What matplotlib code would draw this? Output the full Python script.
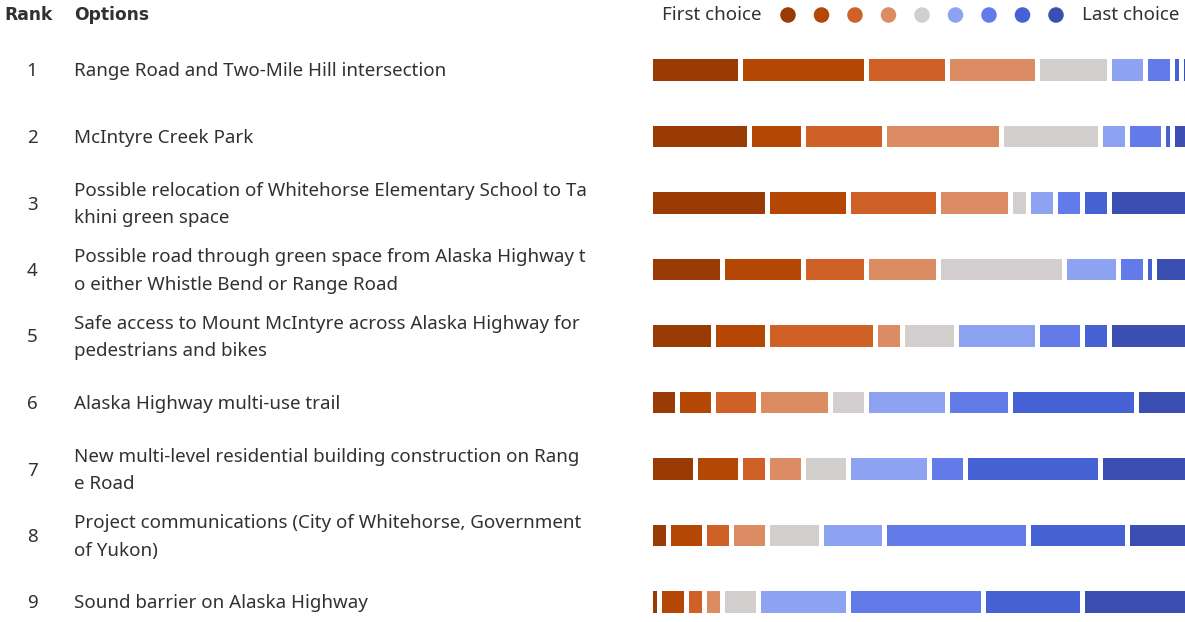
import matplotlib.pyplot as plt

# Ranking results (number of respondents per rank position, 60 in total)
options = [
    "Range Road and Two-Mile Hill intersection",
    "McIntyre Creek Park",
    "Possible relocation of Whitehorse Elementary School to Ta\nkhini green space",
    "Possible road through green space from Alaska Highway t\no either Whistle Bend or Range Road",
    "Safe access to Mount McIntyre across Alaska Highway for\npedestrians and bikes",
    "Alaska Highway multi-use trail",
    "New multi-level residential building construction on Rang\ne Road",
    "Project communications (City of Whitehorse, Government\nof Yukon)",
    "Sound barrier on Alaska Highway",
]
ranks = [1, 2, 3, 4, 5, 6, 7, 8, 9]
counts = [
    [10, 14, 9, 10, 8, 4, 3, 1, 1],
    [11, 6, 9, 13, 11, 3, 4, 1, 2],
    [13, 9, 10, 8, 2, 3, 3, 3, 9],
    [8, 9, 7, 8, 14, 6, 3, 1, 4],
    [7, 6, 12, 3, 6, 9, 5, 3, 9],
    [3, 4, 5, 8, 4, 9, 7, 14, 6],
    [5, 5, 3, 4, 5, 9, 4, 15, 10],
    [2, 4, 3, 4, 6, 7, 16, 11, 7],
    [1, 3, 2, 2, 4, 10, 15, 11, 12],
]
colors = ["#9a3a04", "#b54704", "#cf6127", "#db8c63", "#d4cfcf",
          "#8da3f2", "#627be9", "#4561d3", "#3a4fb1"]

W, H = 1185, 622
fig = plt.figure(figsize=(W / 100, H / 100), dpi=100)
txt_color = "#323130"
font = "Noto Sans"
fs = 13.5

# bar axes: 9 px per respondent, bars run a bit past the right edge
row0, step = 70, 66.5
ax = fig.add_axes([650.5 / W, 0, 540 / W, 1])
ax.set_xlim(0, 60)
ax.set_ylim((H - row0) / step, -row0 / step)
ax.axis("off")

gap = 0.6
for i, row in enumerate(counts):
    left = 0
    for j, c in enumerate(row):
        ax.barh(i, c - gap, left=left + gap / 2, height=0.33,
                color=colors[j], linewidth=0)
        left += c

# text layer in pixel coordinates
tx = fig.add_axes([0, 0, 1, 1])
tx.set_xlim(0, W)
tx.set_ylim(H, 0)
tx.axis("off")

tx.text(4, 15, "Rank", fontsize=12.3, fontweight="bold", color=txt_color,
        va="center", family="DejaVu Sans")
tx.text(74, 15, "Options", fontsize=12.3, fontweight="bold", color=txt_color,
        va="center", family="DejaVu Sans")

for i, (r, opt) in enumerate(zip(ranks, options)):
    y = row0 + step * i + 1.5
    tx.text(32, y, str(r), fontsize=fs, color=txt_color, ha="center",
            va="center", family=font)
    tx.text(74, y, opt, fontsize=fs, color=txt_color, va="center",
            linespacing=1.68, family=font)

# legend
tx.text(761, 15, "First choice", fontsize=fs, color=txt_color, ha="right",
        va="center", family=font)
tx.text(1082, 15, "Last choice", fontsize=fs, color=txt_color, ha="left",
        va="center", family=font)
dot_x = [788 + 33.5 * k for k in range(len(colors))]
tx.scatter(dot_x, [15] * len(colors), s=125, c=colors, linewidths=0)

fig.savefig("out.png", dpi=100)
